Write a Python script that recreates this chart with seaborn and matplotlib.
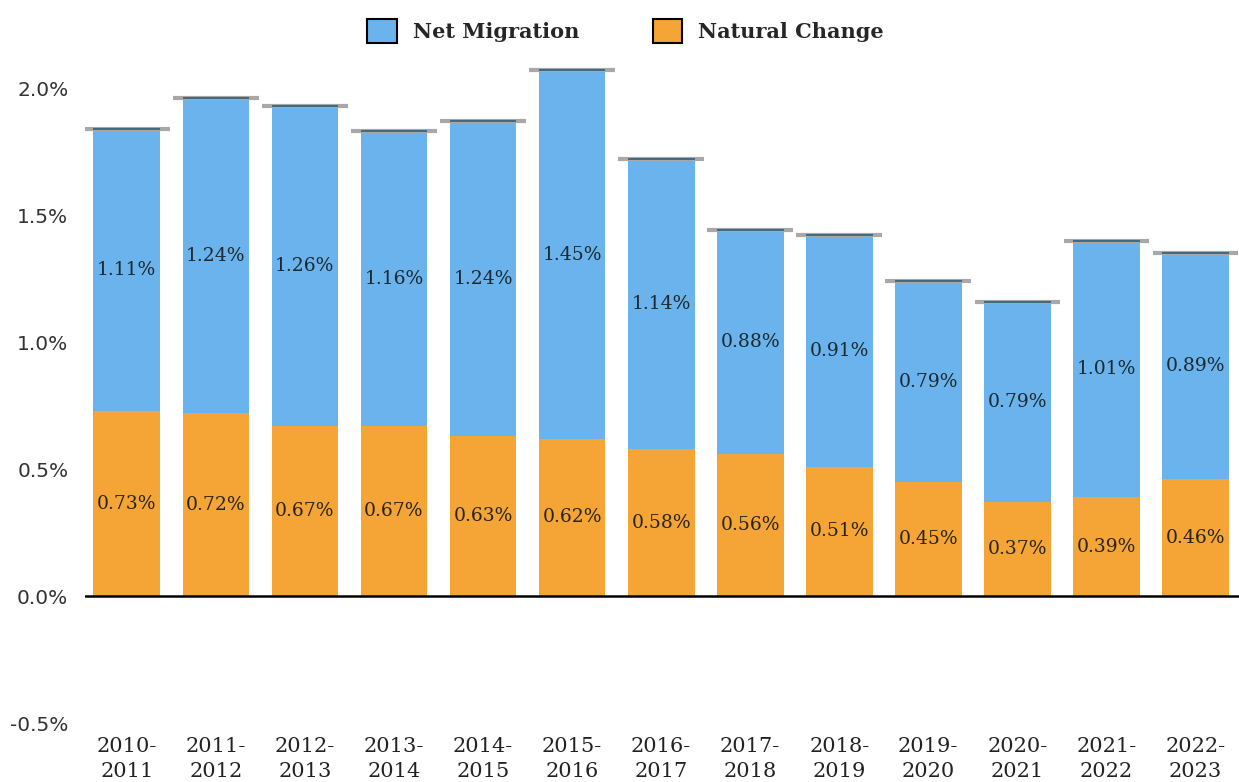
import matplotlib
matplotlib.use("Agg")
import matplotlib.pyplot as plt
import seaborn as sns
import pandas as pd
from matplotlib.patches import Patch

# data
years = ["2010-\n2011", "2011-\n2012", "2012-\n2013", "2013-\n2014", "2014-\n2015",
         "2015-\n2016", "2016-\n2017", "2017-\n2018", "2018-\n2019", "2019-\n2020",
         "2020-\n2021", "2021-\n2022", "2022-\n2023"]
net_migration = [1.11, 1.24, 1.26, 1.16, 1.24, 1.45, 1.14, 0.88, 0.91, 0.79, 0.79, 1.01, 0.89]
natural_change = [0.73, 0.72, 0.67, 0.67, 0.63, 0.62, 0.58, 0.56, 0.51, 0.45, 0.37, 0.39, 0.46]
yticks = [-0.5, 0.0, 0.5, 1.0, 1.5, 2.0]

blue = "#6BB3EC"
orange = "#F4A535"

df = pd.DataFrame({"year": years, "net": net_migration, "nat": natural_change})
df["total"] = df["net"] + df["nat"]

sns.set_style("white")
fig = plt.figure(figsize=(12.39, 7.82), dpi=100)
ax = fig.add_axes([85 / 1239, 46 / 782, 1 - 85 / 1239, 686 / 782])

sns.barplot(data=df, x="year", y="total", color=blue, width=0.75, saturation=1, linewidth=0, ax=ax)
sns.barplot(data=df, x="year", y="nat", color=orange, width=0.75, saturation=1, linewidth=0, ax=ax)

# caps on top of each bar
xs = range(len(df))
ax.hlines(df["total"], [x - 0.48 for x in xs], [x + 0.48 for x in xs], color="#A8A8A8", lw=3, zorder=3)
ax.hlines(df["total"], [x - 0.375 for x in xs], [x + 0.375 for x in xs], color="#2E5F7A", lw=1.2, zorder=4)

for i, row in df.iterrows():
    ax.text(i, row["nat"] + row["net"] / 2, f"{row['net']:.2f}%", ha="center", va="center",
            fontsize=13.5, family="DejaVu Serif", color="#1a2a30")
    ax.text(i, row["nat"] / 2, f"{row['nat']:.2f}%", ha="center", va="center",
            fontsize=13.5, family="DejaVu Serif", color="#2a2418")

ax.axhline(0, color="black", lw=1.8, zorder=5)

ax.set_xlim(-0.47, 12.49)
ax.set_ylim(-0.55, 2.15)
ax.set_yticks(yticks)
ax.set_yticklabels([f"{v:.1f}%" for v in yticks], fontsize=14.5, color="#333333", family="DejaVu Sans")
ax.set_xticks(list(xs))
ax.set_xticklabels(years, fontsize=15, family="DejaVu Serif", color="#222222", linespacing=1.35)
ax.tick_params(axis="both", length=0)
ax.tick_params(axis="y", pad=12)
ax.tick_params(axis="x", pad=1)
ax.set_xlabel("")
ax.set_ylabel("")
sns.despine(ax=ax, left=True, bottom=True)

handles = [Patch(facecolor=blue, edgecolor="black", lw=1.5, label="Net Migration"),
           Patch(facecolor=orange, edgecolor="black", lw=1.5, label="Natural Change")]
fig.legend(handles=handles, loc="upper center", bbox_to_anchor=(0.505, 1.0), ncol=2, frameon=False,
           prop={"family": "DejaVu Serif", "weight": "bold", "size": 15},
           handlelength=1.4, handleheight=1.4, columnspacing=3.5, handletextpad=0.8)

fig.savefig("out.png", dpi=100)
